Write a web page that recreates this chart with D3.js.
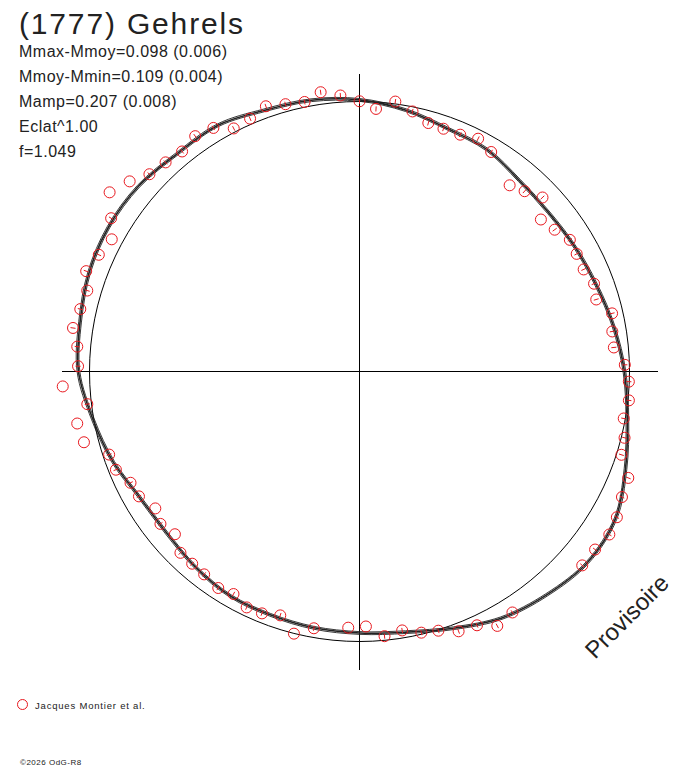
<!DOCTYPE html>
<html>
<head>
<meta charset="utf-8">
<style>
body { margin: 0; background: #fff; }
svg { display: block; font-family: "Liberation Sans", Arial, sans-serif; }
</style>
</head>
<body>
<svg width="688" height="768"></svg>
<script src="https://d3js.org/d3.v7.min.js"></script>
<script>
var title = "(1777) Gehrels";
var stats = [
    "Mmax-Mmoy=0.098 (0.006)",
    "Mmoy-Mmin=0.109 (0.004)",
    "Mamp=0.207 (0.008)",
    "Eclat^1.00",
    "f=1.049"
];
var legendLabel = "Jacques Montier et al.";
var stamp = "\u00a92026 OdG-R8";
var watermark = "Provisoire";

// observations: rotational phase (0-1) and magnitude relative to mean (+ = fainter)
var phase = [
    0.000, 0.010, 0.021, 0.032, 0.043, 0.053, 0.064, 0.075, 0.086, 0.108,
    0.118, 0.129, 0.139, 0.150, 0.161, 0.171, 0.182, 0.193, 0.203, 0.214,
    0.225, 0.235, 0.246, 0.256, 0.267, 0.278, 0.289, 0.299, 0.310, 0.321,
    0.332, 0.342, 0.353, 0.364, 0.410, 0.421, 0.431, 0.442, 0.453, 0.463,
    0.474, 0.485, 0.496, 0.507, 0.528, 0.539, 0.550, 0.561, 0.571, 0.582,
    0.592, 0.604, 0.614, 0.624, 0.635, 0.646, 0.656, 0.668, 0.678, 0.689,
    0.699, 0.710, 0.721, 0.731, 0.742, 0.753, 0.764, 0.774, 0.785, 0.796,
    0.806, 0.817, 0.828, 0.838, 0.849, 0.860, 0.870, 0.881, 0.892, 0.903,
    0.914, 0.924, 0.935, 0.946, 0.957, 0.968, 0.978, 0.989
];
var dm = [
    -0.001, 0.030, -0.010, 0.020, 0.053, 0.057, 0.055, 0.038, 0.061, 0.134,
    0.111, 0.076, 0.145, 0.125, 0.095, 0.100, 0.103, 0.085, 0.098, 0.047,
    0.061, 0.063, 0.020, 0.002, -0.004, 0.007, -0.014, -0.021, -0.083, -0.091,
    -0.112, -0.123, -0.110, -0.110, -0.067, -0.084, -0.042, -0.035, -0.004, 0.007,
    0.033, 0.018, 0.065, 0.059, 0.040, -0.001, 0.059, 0.040, 0.037, 0.062,
    0.050, 0.063, 0.066, 0.066, 0.104, 0.084, 0.105, 0.072, 0.067, 0.032,
    0.027, -0.063, -0.074, -0.018, -0.118, -0.050, -0.058, -0.086, -0.070, -0.061,
    -0.092, -0.068, -0.047, -0.095, -0.163, -0.123, -0.079, -0.066, -0.055, -0.074,
    -0.061, -0.016, -0.024, -0.049, -0.032, -0.022, -0.052, -0.029
];
var err = [
    0.011, 0.011, 0.011, 0.011, 0.011, 0.011, 0.011, 0.011, 0.011, 0,
    0.011, 0.011, 0, 0.011, 0.011, 0.011, 0.011, 0.011, 0.011, 0.011,
    0.011, 0.011, 0.011, 0.011, 0.011, 0.011, 0.011, 0.011, 0.011, 0.011,
    0.011, 0.011, 0.011, 0.011, 0.011, 0.011, 0.011, 0.011, 0.011, 0.011,
    0.011, 0.011, 0, 0, 0.011, 0, 0.011, 0.011, 0.011, 0.011,
    0.011, 0.011, 0.011, 0.011, 0, 0.011, 0, 0.011, 0.011, 0.011,
    0.011, 0, 0, 0.011, 0, 0.011, 0.011, 0.011, 0.011, 0.011,
    0.011, 0.011, 0, 0.011, 0, 0, 0.011, 0.011, 0.011, 0.011,
    0.011, 0.011, 0.011, 0.011, 0.011, 0.011, 0.011, 0.011
];

// fitted light curve, read every 10 degrees of phase
var fitPhase = [
    0.000, 0.028, 0.056, 0.083, 0.111, 0.139, 0.167, 0.194, 0.222, 0.250,
    0.278, 0.306, 0.333, 0.361, 0.389, 0.417, 0.444, 0.472, 0.500, 0.528,
    0.556, 0.583, 0.611, 0.639, 0.667, 0.694, 0.722, 0.750, 0.778, 0.806,
    0.833, 0.861, 0.889, 0.917, 0.944, 0.972
];
var fitDm = [
    -0.007, 0.020, 0.051, 0.061, 0.091, 0.100, 0.092, 0.078, 0.052, 0.022,
    -0.009, -0.058, -0.110, -0.119, -0.093, -0.063, -0.015, 0.023, 0.037, 0.042,
    0.047, 0.048, 0.064, 0.080, 0.073, 0.033, -0.004, -0.048, -0.060, -0.078,
    -0.085, -0.080, -0.061, -0.061, -0.035, -0.024
];
var fitSigma = [-0.006, 0, 0.006];

var svg = d3.select("svg"),
    cx = 359.5, cy = 371.5,
    r0 = 270, rAxis = 298;

var r = d3.scaleLinear().domain([0, 0.1]).range([r0, r0 - 23]);
var ang = d3.scaleLinear().domain([0, 1]).range([0, 2 * Math.PI]);

var g = svg.append("g").attr("transform", "translate(" + cx + "," + cy + ")");

// axes through the centre
g.append("line")
    .attr("x1", -rAxis).attr("x2", rAxis).attr("y1", 0).attr("y2", 0)
    .attr("stroke", "#000").attr("shape-rendering", "crispEdges");
g.append("line")
    .attr("x1", 0).attr("x2", 0).attr("y1", -rAxis).attr("y2", rAxis)
    .attr("stroke", "#000").attr("shape-rendering", "crispEdges");

// mean magnitude circle
g.append("circle")
    .attr("r", r(0))
    .attr("fill", "none")
    .attr("stroke", "#000")
    .attr("stroke-width", 1);

// fit and its uncertainty band
var fit = fitPhase.map(function(p, i) { return [p, fitDm[i]]; });
fitSigma.forEach(function(s) {
    g.append("path")
        .datum(fit)
        .attr("fill", "none")
        .attr("stroke", "#222")
        .attr("stroke-width", s === 0 ? 1.6 : 0.9)
        .attr("d", d3.lineRadial()
            .curve(d3.curveCatmullRomClosed)
            .angle(function(d) { return ang(d[0]); })
            .radius(function(d) { return r(d[1] + s); }));
});

function px(p, m) { return r(m) * Math.sin(ang(p)); }
function py(p, m) { return -r(m) * Math.cos(ang(p)); }

var obs = phase.map(function(p, i) { return {p: p, m: dm[i], e: err[i]}; });

var pts = g.append("g").attr("fill", "none").attr("stroke", "#e8181e");

pts.selectAll("line")
    .data(obs.filter(function(d) { return d.e > 0; }))
    .enter().append("line")
    .attr("x1", function(d) { return px(d.p, d.m - d.e); })
    .attr("y1", function(d) { return py(d.p, d.m - d.e); })
    .attr("x2", function(d) { return px(d.p, d.m + d.e); })
    .attr("y2", function(d) { return py(d.p, d.m + d.e); });

pts.selectAll("circle")
    .data(obs)
    .enter().append("circle")
    .attr("cx", function(d) { return px(d.p, d.m); })
    .attr("cy", function(d) { return py(d.p, d.m); })
    .attr("r", 5.5);

// texts
svg.append("text")
    .attr("x", 19).attr("y", 34)
    .attr("font-size", 30)
    .attr("fill", "#222")
    .attr("textLength", 224)
    .attr("lengthAdjust", "spacing")
    .text(title);

svg.append("g")
    .selectAll("text")
    .data(stats)
    .enter().append("text")
    .attr("x", 19)
    .attr("y", function(d, i) { return 57 + i * 25; })
    .attr("font-size", 16)
    .attr("letter-spacing", 0.5)
    .attr("fill", "#222")
    .text(function(d) { return d; });

svg.append("text")
    .attr("transform", "translate(595,660) rotate(-45)")
    .attr("font-size", 24)
    .attr("fill", "#222")
    .text(watermark);

svg.append("circle")
    .attr("cx", 22.5).attr("cy", 704.5).attr("r", 5)
    .attr("fill", "none").attr("stroke", "#e8181e");
svg.append("text")
    .attr("x", 35).attr("y", 709)
    .attr("font-size", 9.5)
    .attr("letter-spacing", 0.8)
    .attr("fill", "#222")
    .text(legendLabel);

svg.append("text")
    .attr("x", 20).attr("y", 765)
    .attr("font-size", 8)
    .attr("letter-spacing", 0.5)
    .attr("fill", "#222")
    .text(stamp);
</script>
</body>
</html>
